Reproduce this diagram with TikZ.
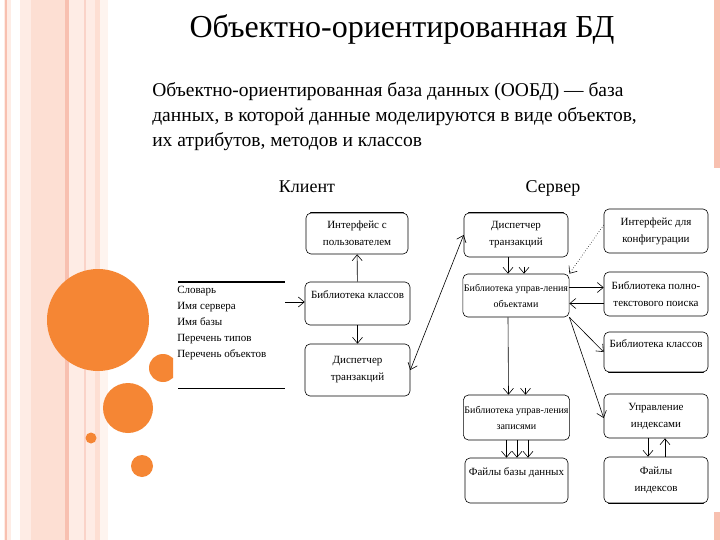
\documentclass[tikz,border=0pt]{standalone}
\usepackage{fontspec}
\setmainfont{Liberation Serif}
\usetikzlibrary{arrows.meta}
\definecolor{dotorange}{RGB}{245,134,52}
\definecolor{stripepink}{RGB}{253,223,211}
\definecolor{stripedark}{RGB}{248,192,176}
\definecolor{stripelight}{RGB}{254,236,229}
\begin{document}
\begin{tikzpicture}[x=1pt,y=-1pt,line width=0.6pt]
\tikzstyle{box}=[draw,rounded corners=5pt,minimum width=104pt,minimum height=44pt,inner sep=1pt,align=center,font=\fontsize{11}{17}\selectfont]
\tikzstyle{arr}=[-{Straight Barb[length=6pt,width=10pt]}]
\tikzstyle{both}=[{Straight Barb[length=6pt,width=10pt]}-{Straight Barb[length=6pt,width=10pt]}]
\tikzstyle{edge}=[line width=1.4pt,line cap=round]
\tikzstyle{head}=[font=\fontsize{18}{20}\selectfont,anchor=base]
\useasboundingbox (0,0) rectangle (720,540);
\fill[white] (0,0) rectangle (720,540);

% background stripes
\fill[stripelight] (4,0) rectangle (11,540);
\fill[stripedark] (5,0) rectangle (7,540);
\fill[stripelight] (20,0) rectangle (31,540);
\fill[stripepink] (31,0) rectangle (65,540);
\fill[stripedark] (65,0) rectangle (69,540);
\fill[stripelight] (69,0) rectangle (84,540);
\fill[stripedark!70] (84,0) rectangle (86,540);
\fill[stripelight] (86,0) rectangle (95,540);
\fill[stripepink] (95,0) rectangle (100,540);
\fill[stripelight!60] (100,0) rectangle (108,540);
\fill[stripedark] (714,0) rectangle (720,168);
\fill[stripedark] (714,512) rectangle (720,540);

% circles
\fill[dotorange] (98,320) circle (51);
\fill[dotorange] (128,408) circle (25);
\fill[dotorange] (91,438) circle (5.5);
\fill[dotorange] (142,466) circle (11);
\begin{scope}
\clip (0,0) rectangle (173,540);
\fill[dotorange] (163,368) circle (14);
\end{scope}

\node (title) [head,font=\fontsize{32}{36}\selectfont] at (402,38) {Объектно-ориентированная БД};
\node (intro) [anchor=north west,align=left,inner sep=0pt,font=\fontsize{19.5}{25}\selectfont] at (152,82)
{Объектно-ориентированная база данных (ООБД) — база\\данных, в которой данные моделируются в виде объектов,\\их атрибутов, методов и классов};

\node (client) [head] at (307,193) {Клиент};
\node (server) [head] at (553,193) {Сервер};

\node (cInt) [box,minimum width=102pt,minimum height=41pt] at (357,233.5) {Интерфейс с\\пользователем};
\node (cLib) [box,minimum width=105pt,minimum height=43pt] at (357.5,303.5) {Библиотека классов\\\mbox{}};
\node (cTm) [box,minimum width=105pt,minimum height=52pt] at (357.5,370) {Диспетчер\\транзакций};

\node (dict) [anchor=north west,align=left,inner sep=0pt,font=\fontsize{11}{16}\selectfont] at (177,286)
{Словарь\\Имя сервера\\Имя базы\\Перечень типов\\Перечень объектов};
\coordinate (dtl) at (178,282);
\coordinate (dtr) at (285,282);
\coordinate (dbl) at (178,388);
\coordinate (dbr) at (285,388);
\coordinate (dout) at (285,302);
\draw[line width=1.2pt] (dtl) -- (dtr);
\draw (dbl) -- (dbr);

\node (sTm) [box] at (516,235) {Диспетчер\\транзакций};
\node (sCfg) [box] at (656,231) {Интерфейс для\\конфигурации};
\node (sObj) [box,minimum height=43pt,font=\fontsize{10}{16}\selectfont] at (516,295.5) {Библиотека управ-ления\\объектами};
\node (sFts) [box] at (656,294) {Библиотека полно-\\текстового поиска};
\node (sLib) [box,minimum height=40pt] at (656,352) {Библиотека классов\\\mbox{}};
\node (sRec) [box,minimum width=103pt,minimum height=45pt,font=\fontsize{10}{16}\selectfont] at (516.5,417.5) {Библиотека управ-ления\\записями};
\node (sIdx) [box] at (656,416) {Управление\\индексами};
\node (sDbf) [box,minimum width=103pt,minimum height=45pt] at (516.5,480.5) {Файлы базы данных\\\mbox{}};
\node (sIdf) [box,minimum height=46pt] at (656,480) {Файлы\\индексов};

\draw[edge] ([xshift=5pt]cInt.north west) -- ([xshift=-5pt]cInt.north east);
\draw[edge] ([xshift=5pt]sTm.north west) -- ([xshift=-5pt]sTm.north east);
\draw[edge] ([xshift=5pt]sLib.south west) -- ([xshift=-5pt]sLib.south east);
\draw[edge] ([xshift=5pt]sIdf.south west) -- ([xshift=-5pt]sIdf.south east);

\draw[arr] (dout) -- (dout -| cLib.west);
\draw[arr] (cLib) -- (cInt);
\draw[arr] (cLib) -- (cTm);
\draw[both] (cTm.east) -- (sTm.west);

\draw[arr] ([xshift=-8pt]sTm.south) -- ([xshift=-8pt]sObj.north);
\draw[arr] ([xshift=8pt,yshift=7pt]sObj.north) -- ([xshift=8pt]sObj.north);
\draw[arr,dotted] ([yshift=6pt]sCfg.west) -- (sObj.north east);
\draw[arr] ([yshift=8pt]sObj.east) -- ([yshift=8pt]sObj.east -| sFts.west);
\draw[arr] ([yshift=-8pt]sObj.east -| sFts.west) -- ([yshift=-8pt]sObj.east);
\draw[arr] (sObj.south east) -- (sLib.west);
\draw[arr] (sObj.south east) -- ([yshift=-2pt]sIdx.west);
\draw[arr] ([xshift=-8pt]sObj.south) -- ([xshift=-8pt]sRec.north);
\draw[arr] ([xshift=9pt,yshift=7pt]sRec.north) -- ([xshift=9pt]sRec.north);

\draw[arr] ([xshift=-10pt]sRec.south) -- ([xshift=-10pt]sDbf.north);
\draw[arr] ([xshift=0.5pt]sRec.south) -- ([xshift=0.5pt]sDbf.north);
\draw[arr] ([xshift=11.5pt]sRec.south) -- ([xshift=11.5pt]sDbf.north);
\draw[arr] ([xshift=-8pt]sIdx.south) -- ([xshift=-8pt]sIdf.north);
\draw[arr] ([xshift=9pt]sIdf.north) -- ([xshift=9pt]sIdx.south);
\end{tikzpicture}
\end{document}
